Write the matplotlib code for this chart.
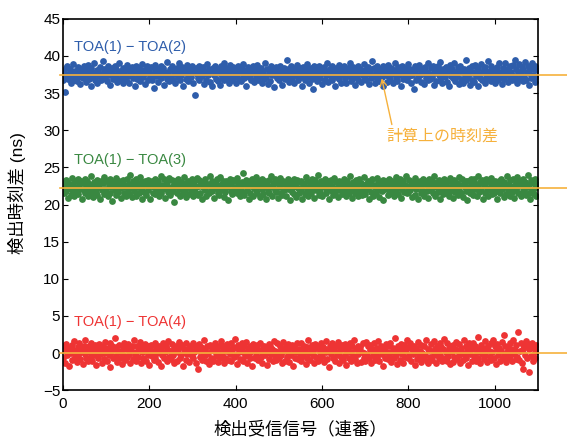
import matplotlib
matplotlib.use("Agg")
import matplotlib.pyplot as plt
import numpy as np

plt.rcParams['font.family'] = ['Liberation Sans', 'Noto Sans CJK JP', 'DejaVu Sans']

# calculated time differences (ns)
calc = [37.5, 22.2, 0.0]
series_names = ["TOA(1) − TOA(2)", "TOA(1) − TOA(3)", "TOA(1) − TOA(4)"]
series_colors = ["#2e5dab", "#398841", "#ee3434"]
line_color = "#f6b13c"

# deviations from calculated value, in 0.1 ns, every 2nd signal
blue_dev = [
    -8, 4, -23, 9, -3, 12, -6, 1, 7, -11, 3, -2, 14, -7, 5, 0, -9, 10, -4, 6, -13, 2, 8, -5, 11,
    -1, 7, -10, 4, 13, -6, 0, -15, 9, 3, -4, 16, -8, 2, 6, -12, 5, -2, 10, -7, 1, 18, -5, 8, -3,
    4, -9, 12, -1, 6, -14, 3, 9, -6, 0, 11, -4, 7, -10, 2, 15, -8, 5, -3, 9, -12, 1, 6, -7, 13,
    -2, 8, -11, 4, 0, 10, -5, 7, -16, 3, 12, -6, 1, 9, -9, 5, -1, 14, -4, 6, -13, 2, 11, -8, 4,
    7, -3, 10, -7, 1, -18, 5, 13, -2, 8, -10, 3, 6, -5, 12, -1, 9, -14, 4, 0, 17, -6, 2, -9, 7,
    -4, 11, -8, 3, 6, -12, 1, 9, -3, 15, -7, 4, -1, 10, -15, 5, 8, -6, 2, 13, -9, 0, 7, -4, 11,
    3, -11, 6, -27, 9, 1, -5, 12, -8, 4, 7, -2, 10, -13, 2, 5, -7, 14, -1, 8, -10, 3, 6, -16, 9,
    0, 12, -6, 4, -9, 7, 2, -14, 11, -3, 5, 16, -8, 1, 9, -5, 3, -11, 13, -2, 6, -7, 10, -4, 2,
    -12, 7, 1, 11, -6, 4, -9, 8, -1, 14, -5, 3, -15, 6, 10, -3, 0, 9, -8, 5, 12, -10, 2, 7, -4,
    13, -7, 3, -2, 9, -11, 5, 1, -6, 16, -4, 8, -13, 2, 6, -9, 11, -1, 4, -17, 7, 0, 10, -5, 3,
    -8, 12, -3, 6, -14, 1, 9, -6, 4, 19, -2, 7, -10, 3, 11, -5, 0, 8, -12, 5, -1, 13, -7, 2, 9,
    -4, 6, -16, 10, 2, -8, 5, 14, -3, 7, -11, 1, 9, -6, 3, -20, 12, -2, 6, -9, 4, 11, -5, 0, 8,
    -13, 3, 10, -7, 5, -1, 15, -10, 2, 7, -4, 12, -8, 1, 6, -15, 9, -3, 4, 13, -6, 0, -11, 8, 2,
    11, -5, 7, -12, 3, 9, -2, 16, -9, 4, -6, 10, 1, -14, 6, -3, 12, -7, 2, 8, -10, 5, -1, 14, -4,
    6, -8, 1, 10, -13, 4, 7, -5, 18, -2, 9, -11, 3, -6, 12, 0, -9, 5, 8, -4, 11, -15, 2, 7, -1,
    -10, 13, -3, 5, -7, 9, 1, -12, 6, 15, -5, 3, -9, 10, -1, 7, -16, 4, 12, -6, 2, -3, 9, -8, 5,
    14, -2, 8, -11, 0, 6, -19, 11, 3, -7, 9, -4, 13, -1, 5, -10, 7, 2, -13, 10, -5, 4, 16, -8, 1,
    -6, 9, -3, 12, -14, 2, 7, -9, 4, 11, -1, 17, -7, 5, -12, 8, 0, -4, 10, -10, 3, 6, -15, 13, -2,
    7, -5, 1, 15, -9, 4, -2, 10, -13, 6, 12, -6, 3, -11, 8, -1, 20, -8, 5, -3, 9, -14, 2, 11, -7,
    4, -10, 13, -2, 6, -16, 9, 1, -5, 14, -8, 3, 7, -12, 10, -4, 2, 18, -6, 5, -9, 12, -1, 8, -3,
    -11, 6, 0, 10, -7, 15, -3, 4, -13, 9, 2, -6, 16, -1, 7, -10, 5, 11, -4, 3, -8, 13, -2, 19, -5,
    8, -12, 3, 14, -6, 1, 10, -9, 6, -3, 17, -7, 4, 12, -14, 2, 9, -5, 15, -1, 7, -10, 11, -4, 6,
]
green_dev = [
    5, -7, 2, 11, -4, 8, -13, 0, 6, -9, 14, -2, 3, -11, 9, -5, 1, 12, -8, 4, -1, 10, -15, 7, -3,
    13, -6, 2, 9, -10, 5, -2, 16, -7, 3, -12, 8, 0, -5, 11, -9, 6, 1, -14, 10, -3, 7, -8, 15, -1,
    -4, 9, -11, 4, 12, -6, 1, -17, 8, 3, -2, 14, -9, 6, -5, 10, 0, -13, 7, 2, 11, -7, 4, -10, 13,
    -3, 6, -8, 18, 1, -12, 9, -4, 5, 12, -10, 2, 7, -6, 15, -1, 8, -14, 3, -5, 10, -9, 4, 11, -2,
    7, -15, 3, 9, -6, 1, 13, -8, 5, -3, 10, -11, 2, 16, -7, 4, -1, 12, -13, 6, 0, 8, -5, 14, -9,
    2, 11, -4, 6, -18, 9, 3, -7, 12, -1, 5, -10, 8, 1, -6, 15, -3, 7, -12, 4, 10, -8, 2, -2, 13,
    -10, 5, 8, -5, 1, 14, -9, 3, 11, -6, 7, -14, 2, 9, -3, 12, -11, 4, 6, -7, 17, -1, 10, -4, 3,
    -13, 8, 0, 12, -6, 4, -9, 15, -2, 6, 10, -12, 3, -5, 9, 1, -16, 7, 13, -4, 5, -8, 11, -1, 2,
    9, -7, 14, -3, 5, -11, 1, 8, -5, 21, -9, 4, 11, -2, 6, -14, 10, -6, 3, 12, -10, 0, 7, -3, 15,
    -6, 3, 10, -12, 6, -1, 13, -8, 2, 9, -15, 5, -4, 11, -7, 1, 16, -10, 4, 7, -2, 12, -5, 8, -13,
    1, 14, -6, 5, -9, 10, -3, 7, -11, 3, 12, -1, 6, -16, 9, -5, 2, 13, -8, 4, -12, 11, 0, -7, 8,
    -2, 10, -14, 6, 3, -8, 15, -4, 9, -10, 1, 7, -6, 12, -1, 4, -13, 11, -3, 5, 18, -9, 2, -5, 10,
    -11, 7, 1, 13, -7, 4, -2, 9, -15, 6, 11, -4, 3, -9, 14, -6, 8, 0, -12, 5, 10, -3, 7, -8, 2,
    12, -5, 6, -10, 9, 1, -7, 16, -3, 4, -13, 8, 2, -6, 11, -1, 5, -11, 13, -4, 7, -9, 3, 15, -2,
    -8, 6, -1, 10, -14, 3, 8, -5, 12, -10, 4, 1, -7, 14, -3, 9, -12, 6, 2, -4, 11, -16, 5, -1, 9,
    3, -9, 13, -2, 7, -6, 10, 0, -11, 5, 15, -4, 8, -8, 2, 12, -13, 6, -1, 9, -5, 4, 17, -7, 1,
    -5, 11, -3, 6, -12, 8, 2, -9, 14, -1, 7, -15, 4, 10, -6, 3, -2, 13, -10, 5, 9, -4, 1, -13, 12,
    6, -2, 9, -7, 4, 16, -11, 2, 8, -5, 11, -1, -14, 7, 3, -8, 12, -3, 5, 10, -6, 1, -10, 14, -4,
    8, -13, 3, 11, -5, 0, 7, -9, 15, -2, 4, -7, 12, -12, 6, 1, -4, 10, -16, 9, 2, -6, 13, -3, 5,
    -9, 12, -1, 6, -10, 3, 17, -5, 8, -2, 11, -14, 4, 7, -7, 13, 0, -11, 9, -3, 5, 14, -8, 2, -6,
    10, -4, 7, -15, 2, 9, -6, 12, -1, 5, -12, 8, 3, -8, 16, -3, 6, -10, 11, 1, -5, 13, -13, 4, 9,
    -2, 15, -7, 3, 10, -11, 6, -4, 13, -1, 8, -9, 2, 18, -6, 5, -14, 11, -3, 7, -8, 12, 0, -10, 6,
]
red_dev = [
    -6, 9, -14, 3, 12, -2, 7, -17, 5, 0, 11, -9, 4, 16, -5, 2, -12, 8, -3, 13, -8, 1, 6, -15, 10,
    -1, 18, -7, 4, -11, 9, 2, -4, 14, -10, 6, -2, 11, -16, 3, 8, -6, 12, -1, 5, -13, 9, 0, -8, 15,
    4, -10, 7, -3, 13, -19, 2, 10, -6, 5, 20, -4, 8, -12, 1, 11, -7, 3, -15, 9, -2, 14, -9, 6, -5,
    12, -1, 7, -13, 4, 9, -8, 17, -3, 2, -11, 10, -5, 6, 15, -14, 1, 8, -7, 3, 12, -10, 5, -2, 9,
    -16, 6, 11, -4, 2, -9, 14, -6, 7, 0, -12, 10, 4, -18, 8, -3, 13, -7, 1, 9, -11, 5, 16, -5, 3,
    -8, 12, -2, 7, -14, 4, 10, -10, 1, 15, -6, 8, -3, 11, -17, 5, 2, -9, 13, -1, 6, -12, 9, 3, -4,
    14, -7, 1, 10, -13, 6, -21, 3, 12, -5, 8, -9, 2, 17, -3, 5, -11, 9, 0, -15, 11, -6, 4, 7, -10,
    3, 13, -4, 8, -12, 1, 10, -7, 16, -2, 5, -14, 9, -6, 3, 12, -9, 6, -1, 14, -11, 4, 8, -5, 19,
    -3, 7, -15, 11, 2, -8, 5, 13, -10, 1, 9, -4, 15, -13, 6, -1, 10, -7, 3, -18, 12, 4, -6, 8, -2,
    11, -9, 4, 14, -5, 0, -13, 7, 10, -3, 6, -16, 2, 12, -8, 9, -1, 5, -11, 16, -4, 3, -9, 13, 1,
    -7, 10, -2, 6, -14, 15, 3, -10, 8, -5, 12, 1, -12, 7, -3, 11, -17, 4, 9, -6, 2, 14, -8, 5, -1,
    13, -11, 6, -4, 10, 2, -15, 8, -7, 17, 0, -9, 5, 11, -2, 3, -13, 12, -5, 7, -10, 9, 1, -6, 14,
    -4, 8, -12, 5, 1, 16, -8, 3, -19, 10, -1, 6, 13, -7, 4, -11, 9, -3, 15, -14, 2, 7, -5, 11, -9,
    6, -2, 12, -16, 7, 3, -6, 14, -10, 1, 9, -4, 18, -8, 5, -13, 10, -1, 4, 8, -12, 2, 13, -7, 0,
    -10, 15, -3, 9, -7, 4, 11, -14, 6, -2, 13, -9, 2, 7, -5, 16, -11, 3, 10, -1, -17, 8, 5, -6, 12,
    2, -8, 10, -4, 14, -12, 1, 7, -6, 20, -3, 5, -15, 9, 3, -9, 12, -1, 6, -13, 11, -5, 4, 17, -7,
    8, -3, 13, -11, 5, -1, 10, -16, 2, 7, -8, 15, -4, 3, -12, 11, 0, -6, 9, -2, 18, -10, 6, -14, 4,
    -5, 12, -9, 3, 16, -3, 6, -13, 10, 1, -7, 14, -2, 8, -11, 5, 19, -6, 2, -10, 13, -4, 7, -15, 9,
    1, -12, 11, -5, 6, 15, -8, 3, -3, 12, -14, 7, 0, -9, 17, -2, 10, -6, 4, -16, 13, -1, 8, -11, 5,
    14, -4, 9, -10, 2, 21, -7, 6, -13, 11, -1, 4, -8, 16, -3, 7, -12, 10, 3, -5, 13, -9, 1, 18, -6,
    9, -15, 5, 12, -2, 7, -10, 3, 15, -6, 24, -4, 10, -12, 1, 8, -7, 13, -3, 6, -11, 17, -1, 4, -8,
    11, -5, 28, -9, 3, 14, -13, 6, -22, 10, -2, 16, -7, 12, -25, 5, 9, -4, 13, -10, 7, 2, -6, 11, 3,
]
devs = [blue_dev, green_dev, red_dev]
label_pos = [(25, 41.2), (25, 26.0), (25, 4.2)]

fig = plt.figure(figsize=(5.67, 4.37), dpi=100)
ax = fig.add_axes([0.111, 0.107, 0.838, 0.850])

for i in range(3):
    d = np.array(devs[i]) / 10.0
    x = np.arange(len(d)) * (1100.0 / len(d))
    ax.scatter(x, calc[i] + d, s=24, color=series_colors[i], linewidths=0, zorder=2)
    ax.axhline(calc[i], xmin=-0.007, xmax=1.07, color=line_color, lw=1.2,
               clip_on=False, zorder=3)
    ax.text(label_pos[i][0], label_pos[i][1], series_names[i], color=series_colors[i],
            fontsize=10.5, ha='left', va='center')

ax.annotate("計算上の時刻差", xy=(738, 37.0), xytext=(748, 29.2),
            color=line_color, fontsize=11.5, ha='left', va='center',
            arrowprops=dict(arrowstyle='->', color=line_color, lw=1,
                            relpos=(0.06, 1.0), shrinkA=1, shrinkB=0))

ax.set_xlim(0, 1100)
ax.set_ylim(-5, 45)
ax.set_xticks([0, 200, 400, 600, 800, 1000])
ax.set_yticks(range(-5, 46, 5))
ax.tick_params(direction='in', top=True, right=True, length=3.5, width=0.8,
               labelsize=11, pad=2)
ax.tick_params(axis='x', pad=5)
for sp in ax.spines.values():
    sp.set_linewidth(1.2)

ax.set_xlabel("検出受信信号（連番）", fontsize=12.5)
ax.set_ylabel("検出時刻差 (ns)", fontsize=12.5)
ax.xaxis.set_label_coords(0.5, -0.082)
ax.yaxis.set_label_coords(-0.077, 0.53)

fig.savefig("out.png", dpi=100)
